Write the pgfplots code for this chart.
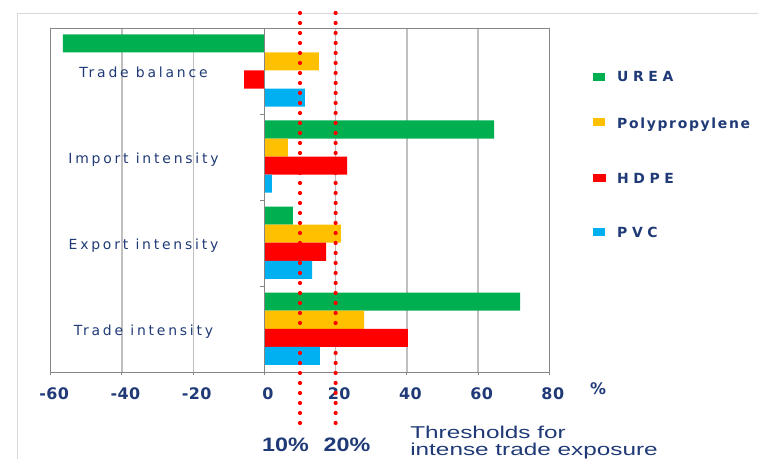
\documentclass[border=0pt]{standalone}
\usepackage{fontspec}
\usepackage{pgfplots}
\pgfplotsset{compat=1.18}
\setmainfont{DejaVu Sans}
\newfontfamily\tickfont[LetterSpace=3]{DejaVu Sans}
\newfontfamily\catfont[LetterSpace=20]{DejaVu Sans}
\newfontfamily\capsfont[LetterSpace=33]{DejaVu Sans}
\newfontfamily\legfont[LetterSpace=12]{DejaVu Sans}
\newfontfamily\arialfont{Liberation Sans}

\definecolor{urea}{HTML}{00B050}
\definecolor{pp}{HTML}{FFC000}
\definecolor{hdpe}{HTML}{FF0000}
\definecolor{pvc}{HTML}{00B0F0}
\definecolor{navy}{HTML}{1F3A76}
\definecolor{gridgray}{HTML}{BFBFBF}
\definecolor{framegray}{HTML}{868686}
\definecolor{outergray}{HTML}{D9D9D9}

\begin{document}
\begin{tikzpicture}
\useasboundingbox (0bp,0bp) rectangle (758bp,459bp);
\draw[outergray, line width=1.2bp] (17.3bp,0bp) -- (17.3bp,445.7bp) -- (758bp,445.7bp);

\begin{axis}[
  at={(50.7bp,86.3bp)}, anchor=south west,
  width=498.6bp, height=344.4bp, scale only axis,
  clip=false,
  xbar, bar width=0.21,
  xmin=-60, xmax=80, ymin=-0.5, ymax=3.5,
  xtick={-60,-40,...,80},
  xticklabels={-60,-40,-20,0,20,40,60,80},
  ytick={0,1,2,3},
  yticklabels={Trade intensity,Export intensity,Import intensity,Trade balance},
  xmajorgrids,
  major x grid style={gridgray, line width=1.3bp},
  axis line style={framegray, line width=1bp},
  xtick pos=left, tick align=outside, major tick length=2.5bp,
  xtick style={framegray, line width=1bp},
  ytick style={draw=none},
  xticklabel style={font=\tickfont\bfseries\fontsize{16}{18}\selectfont,
    text=navy, anchor=base, yshift=-24.3bp, xshift=3.5bp},
  yticklabel style={font=\catfont\fontsize{14}{16}\selectfont,
    text=navy, anchor=base, xshift=95.3bp, yshift=-6.2bp},
]
% UREA, Polypropylene, HDPE, PVC -- top to bottom within each group
\addplot[fill=urea, draw=none, bar shift=0.325]
  coordinates {(71.8,0) (8.0,1) (64.5,2) (-56.6,3)};
\addplot[fill=pp, draw=none, bar shift=0.115]
  coordinates {(28.0,0) (21.5,1) (6.6,2) (15.3,3)};
\addplot[fill=hdpe, draw=none, bar shift=-0.095]
  coordinates {(40.3,0) (17.3,1) (23.2,2) (-5.7,3)};
\addplot[fill=pvc, draw=none, bar shift=-0.305]
  coordinates {(15.6,0) (13.4,1) (2.1,2) (11.4,3)};

% category axis at zero with its boundary ticks
\draw[framegray, line width=1bp] (axis cs:0,-0.5) -- (axis cs:0,3.5);
\pgfplotsinvokeforeach{0.5,1.5,2.5}{
  \draw[framegray, line width=1bp] (axis cs:0,#1) -- ++(-4.5bp,0bp);
}

% 10% and 20% thresholds
\draw[hdpe, line width=4.2bp, line cap=round, dash pattern=on 0bp off 10bp]
  (axis cs:10,3.678) -- (axis cs:10,-1.107);
\draw[hdpe, line width=4.2bp, line cap=round, dash pattern=on 0bp off 10bp]
  (axis cs:20,3.678) -- (axis cs:20,-1.107);
\end{axis}

% unit
\node[anchor=base, inner sep=0pt, text=navy,
  font=\tickfont\bfseries\fontsize{16}{18}\selectfont] at (598bp,64bp) {\%};

% threshold labels
\node[anchor=base, inner sep=0pt, text=navy, xscale=1.2,
  font=\arialfont\bfseries\fontsize{19.5}{22}\selectfont] at (285.5bp,8bp) {10\%};
\node[anchor=base, inner sep=0pt, text=navy, xscale=1.2,
  font=\arialfont\bfseries\fontsize{19.5}{22}\selectfont] at (347bp,8bp) {20\%};
\node[anchor=base west, inner sep=0pt, text=navy, xscale=1.42,
  font=\arialfont\fontsize{17.2}{20}\selectfont] at (410bp,21bp) {Thresholds for};
\node[anchor=base west, inner sep=0pt, text=navy, xscale=1.42,
  font=\arialfont\fontsize{17.2}{20}\selectfont] at (410bp,4bp) {intense trade exposure};

% legend
\fill[urea] (593bp,378bp) rectangle (605bp,386bp);
\fill[pp]   (593bp,332.8bp) rectangle (605bp,340.8bp);
\fill[hdpe] (593bp,276.5bp) rectangle (606bp,284.5bp);
\fill[pvc]  (593bp,222.8bp) rectangle (605bp,230.8bp);
\node[anchor=base west, inner sep=0pt, text=navy,
  font=\capsfont\bfseries\fontsize{14}{16}\selectfont] at (617bp,377.3bp) {UREA};
\node[anchor=base west, inner sep=0pt, text=navy,
  font=\legfont\bfseries\fontsize{14}{16}\selectfont] at (617bp,330.7bp) {Polypropylene};
\node[anchor=base west, inner sep=0pt, text=navy,
  font=\capsfont\bfseries\fontsize{14}{16}\selectfont] at (617bp,275.7bp) {HDPE};
\node[anchor=base west, inner sep=0pt, text=navy,
  font=\capsfont\bfseries\fontsize{14}{16}\selectfont] at (617bp,221.7bp) {PVC};
\end{tikzpicture}
\end{document}
